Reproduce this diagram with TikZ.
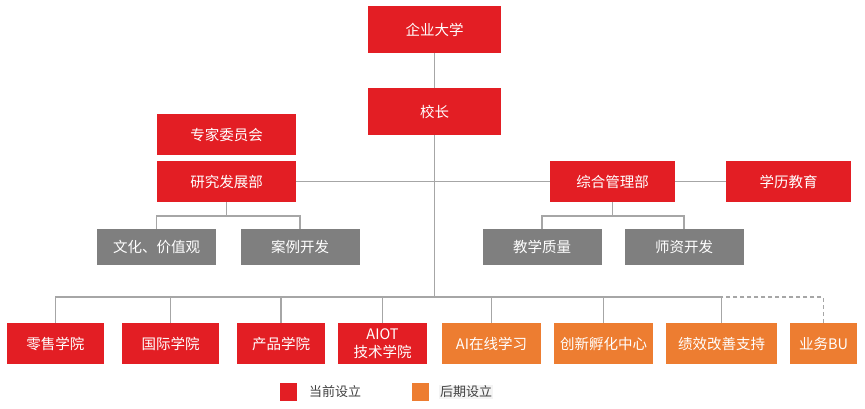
\documentclass[tikz,border=0pt]{standalone}
\usepackage{fontspec}
\setmainfont{Noto Sans CJK SC}
\definecolor{unired}{HTML}{E31E24}
\definecolor{uniorange}{HTML}{ED7D31}
\definecolor{unigray}{HTML}{7F7F7F}
\definecolor{linegray}{HTML}{A6A6A6}
\definecolor{legendtext}{HTML}{404040}
\definecolor{legendbg}{HTML}{F4F4F4}

\begin{document}
\begin{tikzpicture}[x=1pt,y=-1pt,
    block_base/.style ={rectangle, draw=none, text=white, inner sep=0pt,
      align=center, font=\fontsize{14.5}{18}\selectfont},
    block_red/.style ={block_base, fill=unired},
    block_orange/.style ={block_base, fill=uniorange},
    block_gray/.style ={block_base, fill=unigray,
      minimum width=119pt, minimum height=36pt},
    block_bottom_red/.style ={block_red, minimum height=41pt},
    block_bottom_orange/.style ={block_orange, minimum height=41pt},
    legend_box/.style ={rectangle, draw=none, minimum width=17pt,
      minimum height=18pt, inner sep=0pt},
    legend_text/.style ={anchor=west, text=legendtext, inner sep=1pt,
      font=\fontsize{13}{15}\selectfont},
    line/.style ={draw=linegray, line width=1.9pt},
    line_later/.style ={line, dash pattern=on 4pt off 3pt}]
    \useasboundingbox (0,0) rectangle (865,408);
    % top of the chart (y runs downwards, in pixels)
    \node [block_red, minimum width=133pt, minimum height=47pt] (university) at (434.5,29.5) {企业大学};
    \node [block_red, minimum width=133pt, minimum height=47pt] (president) at (434.5,111.5) {校长};
    % left branch
    \node [block_red, minimum width=139pt, minimum height=41pt] (experts) at (226.5,134.5) {专家委员会};
    \node [block_red, minimum width=139pt, minimum height=41pt] (research) at (226.5,181.5) {研究发展部};
    \node [block_gray] (culture) at (156.5,247) {文化、价值观};
    \node [block_gray] (cases) at (300,247) {案例开发};
    % right branch
    \node [block_red, minimum width=125pt, minimum height=41pt] (admin) at (612.5,181.5) {综合管理部};
    \node [block_red, minimum width=125pt, minimum height=41pt] (degree) at (788.5,181.5) {学历教育};
    \node [block_gray] (quality) at (542,247) {教学质量};
    \node [block_gray] (teachers) at (684,247) {师资开发};
    % colleges, bottom row
    \node [block_bottom_red, minimum width=97pt] (retail) at (55.5,343.5) {零售学院};
    \node [block_bottom_red, minimum width=97pt] (intl) at (170.5,343.5) {国际学院};
    \node [block_bottom_red, minimum width=88pt] (product) at (281,343.5) {产品学院};
    \node [block_bottom_red, minimum width=89pt] (aiot) at (382.5,343.5) {AIOT\\技术学院};
    \node [block_bottom_orange, minimum width=99pt] (ai_online) at (491.5,343.5) {AI在线学习};
    \node [block_bottom_orange, minimum width=99pt] (incubator) at (603.5,343.5) {创新孵化中心};
    \node [block_bottom_orange, minimum width=111pt] (performance) at (721.5,343.5) {绩效改善支持};
    \node [block_bottom_orange, minimum width=67pt] (business) at (823.5,343.5) {业务BU};
    % legend
    \node [legend_box, fill=unired] (legend_now) at (288.5,392) {};
    \node [legend_text] (legend_now_text) at (308,392) {当前设立};
    \node [legend_box, fill=uniorange] (legend_later) at (420,392) {};
    \node [legend_text, fill=legendbg] (legend_later_text) at (439,392) {后期设立};
    % connecting nodes with paths
    \coordinate (bus) at (434.5,297);
    \begin{scope}[every path/.style=line]
      \path (university) -- (president);
      \path (president) -- (bus);
      \path (research) -- (admin);
      \path (admin) -- (degree);
      \path (research.south) -- ++(0,14) coordinate (research_fork);
      \path (culture.north) |- (research_fork);
      \path (cases.north) |- (research_fork);
      \path (admin.south) -- ++(0,14) coordinate (admin_fork);
      \path (quality.north) |- (admin_fork);
      \path (teachers.north) |- (admin_fork);
      \foreach \college in {retail,intl,product,aiot,ai_online,incubator,performance}
        \path (\college.north) |- (bus);
    \end{scope}
    \draw [line_later] (business.north) |- (performance.north |- bus);
  \end{tikzpicture}
\end{document}
